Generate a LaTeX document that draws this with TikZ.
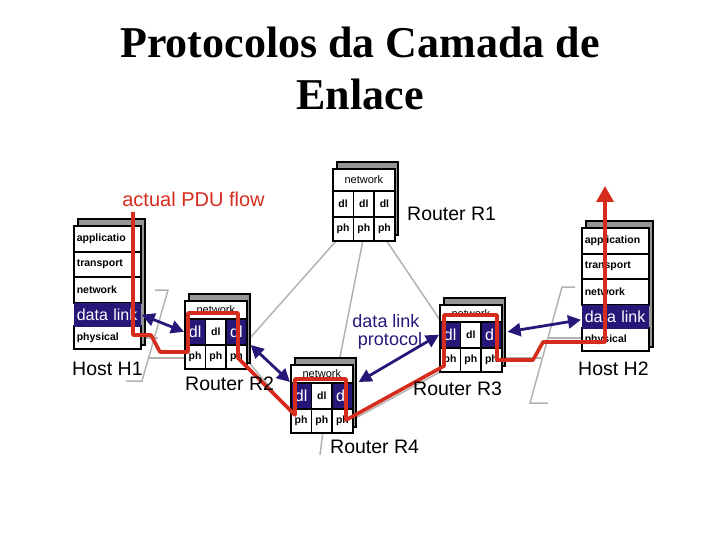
\documentclass[tikz,border=0pt]{standalone}
\usepackage{fontspec}
\setmainfont{Liberation Serif}
\newfontfamily\arialf{Liberation Sans}
\usetikzlibrary{arrows.meta,calc}
\definecolor{navy}{RGB}{40,22,120}
\definecolor{pdured}{RGB}{214,44,30}
\definecolor{linkgray}{RGB}{178,178,178}
\definecolor{shadegray}{RGB}{150,150,150}
\newcommand\fsz[1]{\fontsize{#1}{#1}\selectfont}
\tikzset{
  shadowbox/.style={draw=black,fill=shadegray,line width=1.4pt},
  hcell/.style={draw=black,fill=white,line width=1.6pt,minimum width=67pt,text width=61pt,
    inner xsep=3pt,inner ysep=0pt,align=left,anchor=north west,font=\arialf\bfseries\fsz{10.5}},
  hdl/.style={hcell,fill=navy,text=white,font=\arialf\fsz{16}},
  rcell/.style={draw=black,fill=white,line width=1.6pt,minimum width=62pt,inner sep=0pt,
    anchor=north west,font=\arialf\fsz{11}},
  dlw/.style={draw=black,fill=white,line width=1.6pt,minimum width=20.67pt,minimum height=26pt,
    inner sep=0pt,anchor=north west,font=\arialf\bfseries\fsz{10.5}},
  dln/.style={dlw,fill=navy,text=white,font=\arialf\fsz{16}},
  phc/.style={dlw,minimum height=24pt},
  link/.style={draw=linkgray,line width=1.5pt},
  pdu/.style={draw=pdured,line width=3.6pt,line join=round},
  dlarrow/.style={draw=navy,line width=2.8pt,{Triangle[length=13pt,width=13pt]}-{Triangle[length=13pt,width=13pt]}},
  lbl/.style={font=\arialf\fsz{19.5},text=black,inner sep=0pt,anchor=base west},
}
% host stack: #1 name, #2 x, #3 y(top), #4 first layer text
\newcommand\hoststk[4]{%
  \draw[shadowbox] ({#2+5},{#3-6}) rectangle ({#2+72},{#3+120});
  \node[hcell,minimum height=26pt] (#1app) at (#2,#3) {#4};
  \node[hcell,minimum height=25pt] (#1tra) at (#2,{#3+26}) {transport};
  \node[hcell,minimum height=26pt] (#1net) at (#2,{#3+51}) {network};
  \node[hcell,minimum height=23pt] (#1phy) at (#2,{#3+100}) {physical};
  \node[hdl,minimum height=24pt,draw=none] (#1dl) at (#2,{#3+77}) {data link};
}
% router stack: #1 name, #2 x, #3 y(top), #4 network height, #5 style of outer dl cells
\newcommand\rtrstk[5]{%
  \draw[shadowbox] ({#2+5},{#3-6}) rectangle ({#2+66},{#3+#4+45});
  \node[rcell,minimum height={#4pt}] (#1net) at (#2,#3) {network};
  \node[#5] (#1dla) at (#2,{#3+#4}) {dl};
  \node[dlw] (#1dlb) at ({#2+20.67},{#3+#4}) {dl};
  \node[#5] (#1dlc) at ({#2+41.33},{#3+#4}) {dl};
  \node[phc] (#1pha) at (#2,{#3+#4+26}) {ph};
  \node[phc] (#1phb) at ({#2+20.67},{#3+#4+26}) {ph};
  \node[phc] (#1phc) at ({#2+41.33},{#3+#4+26}) {ph};
}
\begin{document}
\begin{tikzpicture}[x=1pt,y=-1pt]
\useasboundingbox (0,0) rectangle (720,540);
% title
\node[font=\bfseries\fsz{44},inner sep=0pt,anchor=base] (title1) at (360,58) {Protocolos da Camada de};
\node[font=\bfseries\fsz{44},inner sep=0pt,anchor=base] (title2) at (360,110) {Enlace};

% gray physical links
\coordinate (r1bl) at (337,240);
\coordinate (r1bm) at (363,240);
\coordinate (r1br) at (386,240);
\draw[link] (r1bl) -- (250,338);
\draw[link] (r1bm) -- (340,357);
\draw[link] (r1br) -- (442,323);
\draw[link] (155,290) -- (168,290) -- (142,381) -- (126,381);
\draw[link] (140,338) -- (158,338);
\draw[link] (148,358) -- (185,358);
\draw[link] (247,360) -- (292,414);
\draw[link] (352,420) -- (440,372);
\draw[link] (323,431) -- (320,455);
\draw[link] (575,287) -- (562,287) -- (530,403) -- (548,403);
\draw[link] (502,358) -- (541,358);
\draw[link] (548,338) -- (582,338);

% stacks
\hoststk{hA}{73}{225}{applicatio}
\hoststk{hB}{581}{227}{application}
\rtrstk{rA}{332}{168}{22}{dlw}
\rtrstk{rB}{184}{300}{18}{dln}
\rtrstk{rD}{290}{364}{18}{dln}
\rtrstk{rC}{439}{304}{17}{dln}

% actual PDU flow
\coordinate (pduStart) at (133,212);
\coordinate (pduEnd) at (605,186);
\draw[pdu,-{Triangle[length=16pt,width=17pt]}] (pduStart) -- (133,335) -- (151,335) -- (160,352)
  -- (188,352) -- (188,313) -- (238,313) -- (238,358) -- (295,415) -- (295,379) -- (346,379)
  -- (346,420) -- (444,366) -- (444,315) -- (497,315) -- (497,360) -- (533,360) -- (543,342)
  -- (605,342) -- (pduEnd);

% data link protocol arrows
\draw[dlarrow] (hAdl.east) -- (rBdla.west);
\draw[dlarrow] ($(rBphc.north east)+(3,1)$) -- (rDdla.north west);
\draw[dlarrow] ($(rDdlc.north east)+(5,0)$) -- (rCdla.west);
\draw[dlarrow] ($(rCdlc.east)+(5,-3)$) -- ($(hBdl.west)+(0,3)$);

% labels
\node[font=\arialf\fsz{20},text=pdured,inner sep=0pt,anchor=base] (pdulbl) at (193.5,207) {actual PDU flow};
\node[lbl] (lr1) at (407,221) {Router R1};
\node[lbl] (lh1) at (72,375) {Host H1};
\node[lbl] (lr2) at (185,390) {Router R2};
\node[lbl] (lr4) at (330,453) {Router R4};
\node[lbl] (lr3) at (413,395) {Router R3};
\node[lbl] (lh2) at (578,375) {Host H2};
\node[font=\arialf\fsz{18},text=navy,inner sep=0pt,anchor=base] (dlp1) at (386,327) {data link};
\node[font=\arialf\fsz{18},text=navy,inner sep=0pt,anchor=base] (dlp2) at (390,345) {protocol};
\end{tikzpicture}
\end{document}
